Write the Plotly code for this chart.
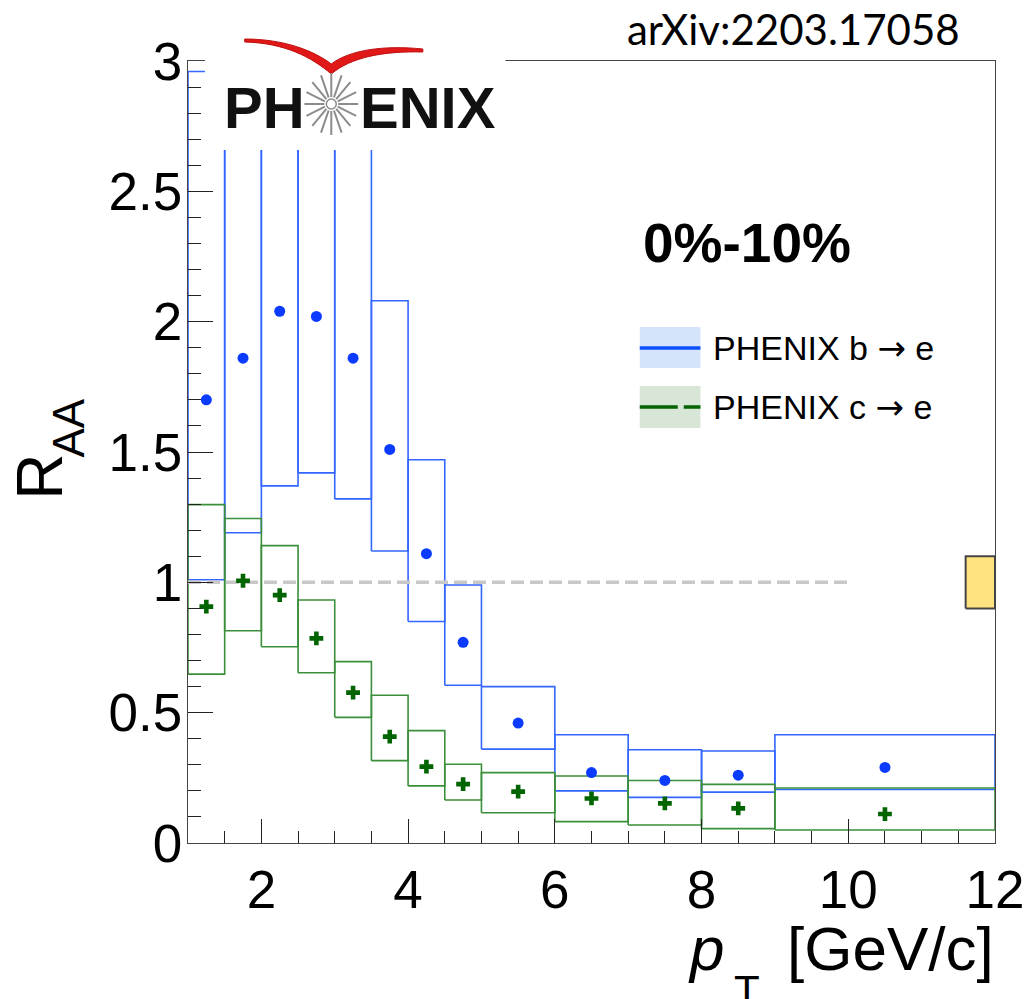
import math
import plotly.graph_objects as go

# pT bins (GeV/c)
pt_lo = [1.0, 1.5, 2.0, 2.5, 3.0, 3.5, 4.0, 4.5, 5.0, 6.0, 7.0, 8.0, 9.0]
pt_hi = [1.5, 2.0, 2.5, 3.0, 3.5, 4.0, 4.5, 5.0, 6.0, 7.0, 8.0, 9.0, 12.0]
pt_center = [1.25, 1.75, 2.25, 2.75, 3.25, 3.75, 4.25, 4.75, 5.5, 6.5, 7.5, 8.5, 10.5]

# b -> e R_AA, central values and systematic band edges
raa_b = [1.70, 1.86, 2.04, 2.02, 1.86, 1.51, 1.11, 0.77, 0.46, 0.27, 0.24, 0.26, 0.29]
raa_b_sys_low = [1.01, 1.19, 1.37, 1.42, 1.32, 1.12, 0.85, 0.605, 0.36, 0.20, 0.175, 0.195, 0.205]
raa_b_sys_high = [2.96, 3.15, 3.35, 3.25, 2.95, 2.08, 1.47, 0.99, 0.60, 0.415, 0.358, 0.353, 0.415]

# c -> e R_AA, central values and systematic band edges
raa_c = [0.907, 1.006, 0.951, 0.785, 0.577, 0.408, 0.293, 0.226, 0.197, 0.171, 0.152, 0.133, 0.111]
raa_c_sys_low = [0.648, 0.814, 0.753, 0.653, 0.482, 0.316, 0.219, 0.165, 0.116, 0.082, 0.069, 0.055, 0.050]
raa_c_sys_high = [1.298, 1.245, 1.141, 0.932, 0.696, 0.567, 0.431, 0.302, 0.270, 0.257, 0.240, 0.225, 0.211]

# global normalisation uncertainty box and unity reference line
norm_x = [11.6, 12.0]
norm_y = [0.9, 1.1]
unity_x = [1.0, 10.0]
unity_y = [1.0, 1.0]

# canvas geometry (pixels)
W, H = 1036, 999
PL, PR, PT, PB = 188, 999, 61, 843

BLUE_BOX = "#3366ff"
BLUE_PT = "#0b3bff"
GREEN_BOX = "#3a8f3a"
GREEN_PT = "#006400"
FONT = "Liberation Sans, Arial, sans-serif"
ARROW = '<span style="font-family:DejaVu Sans">→</span>'


def px(x):
    return (x - PL) / (PR - PL)


def py(y):
    return (PB - y) / (PB - PT)


def box_outline(lo, hi, bottom, top):
    xs, ys = [], []
    for a, b, c, d in zip(lo, hi, bottom, top):
        xs += [a, b, b, a, a, None]
        ys += [c, c, d, d, c, None]
    return xs, ys


fig = go.Figure()

bx, by = box_outline(pt_lo, pt_hi, raa_b_sys_low, raa_b_sys_high)
fig.add_trace(go.Scatter(x=bx, y=by, mode="lines",
                         line=dict(color=BLUE_BOX, width=1.6),
                         hoverinfo="skip", showlegend=False))

cx, cy = box_outline(pt_lo, pt_hi, raa_c_sys_low, raa_c_sys_high)
fig.add_trace(go.Scatter(x=cx, y=cy, mode="lines",
                         line=dict(color=GREEN_BOX, width=1.6),
                         hoverinfo="skip", showlegend=False))

fig.add_trace(go.Scatter(x=unity_x, y=unity_y, mode="lines",
                         line=dict(color="#c8c8c8", width=3.5, dash="13px,6px"),
                         hoverinfo="skip", showlegend=False))

fig.add_trace(go.Scatter(
    x=[norm_x[0], norm_x[1], norm_x[1], norm_x[0], norm_x[0]],
    y=[norm_y[0], norm_y[0], norm_y[1], norm_y[1], norm_y[0]],
    mode="lines", fill="toself", fillcolor="#ffe380",
    line=dict(color="#444444", width=2),
    hoverinfo="skip", showlegend=False))

fig.add_trace(go.Scatter(x=pt_center, y=raa_b, mode="markers",
                         marker=dict(symbol="circle", size=11, color=BLUE_PT),
                         name="PHENIX b → e", showlegend=False))
fig.add_trace(go.Scatter(x=pt_center, y=raa_c, mode="markers",
                         marker=dict(symbol="cross", size=11.5, color=GREEN_PT,
                                     line=dict(width=0)),
                         name="PHENIX c → e", showlegend=False))

axis_common = dict(
    showgrid=False, zeroline=False, showline=True, linecolor="#444444",
    linewidth=1.3, mirror=True, ticks="inside", tickcolor="#222222",
    tickwidth=1.2, tickfont=dict(family=FONT, size=53, color="black"),
)
fig.update_xaxes(range=[1, 12], tick0=0, dtick=2, ticklen=24,
                 minor=dict(dtick=0.5, ticks="inside", ticklen=12,
                            tickcolor="#222222", tickwidth=1.2),
                 ticklabelstandoff=0, **axis_common)
fig.update_yaxes(range=[0, 3], tick0=0, dtick=0.5, ticklen=25,
                 minor=dict(dtick=0.1, ticks="inside", ticklen=13,
                            tickcolor="#222222", tickwidth=1.2),
                 ticklabelstandoff=-6, **axis_common)

shapes = []
annotations = []

# legend entries
shapes.append(dict(type="rect", xref="paper", yref="paper",
                   x0=px(642), x1=px(703), y0=py(368), y1=py(327),
                   fillcolor="#d6e4fb", line=dict(width=0), layer="above"))
shapes.append(dict(type="line", xref="paper", yref="paper",
                   x0=px(642), x1=px(703), y0=py(348), y1=py(348),
                   line=dict(color="#0a50ff", width=3.5), layer="above"))
shapes.append(dict(type="rect", xref="paper", yref="paper",
                   x0=px(642), x1=px(703), y0=py(428), y1=py(386),
                   fillcolor="#d7e6d7", line=dict(width=0), layer="above"))
shapes.append(dict(type="line", xref="paper", yref="paper",
                   x0=px(642), x1=px(703), y0=py(407), y1=py(407),
                   line=dict(color="#006400", width=3.5, dash="38px,6px"),
                   layer="above"))
for label, yc in [("PHENIX b " + ARROW + " e", 348), ("PHENIX c " + ARROW + " e", 407)]:
    annotations.append(dict(text=label, xref="paper", yref="paper",
                            x=px(714), y=py(yc), xanchor="left", yanchor="middle",
                            showarrow=False,
                            font=dict(family=FONT, size=34, color="black")))

# centrality label
annotations.append(dict(text="<b>0%-10%</b>", xref="paper", yref="paper",
                        x=px(750), y=py(243), xanchor="center", yanchor="middle",
                        showarrow=False,
                        font=dict(family=FONT, size=55, color="black")))

# arXiv reference
annotations.append(dict(text="arXiv:2203.17058", xref="paper", yref="paper",
                        x=px(797), y=py(29), xanchor="center", yanchor="middle",
                        showarrow=False,
                        font=dict(family="Lato, Open Sans, sans-serif", size=42,
                                  color="black")))

# axis titles
annotations.append(dict(text="R", xref="paper", yref="paper",
                        x=px(39), y=py(477), xanchor="center", yanchor="middle",
                        textangle=-90, showarrow=False,
                        font=dict(family=FONT, size=64, color="black")))
annotations.append(dict(text="AA", xref="paper", yref="paper",
                        x=px(67), y=py(428), xanchor="center", yanchor="middle",
                        textangle=-90, showarrow=False,
                        font=dict(family=FONT, size=44, color="black")))
annotations.append(dict(text="<i>p</i>", xref="paper", yref="paper",
                        x=px(688), y=py(948), xanchor="left", yanchor="middle",
                        showarrow=False,
                        font=dict(family=FONT, size=62, color="black")))
annotations.append(dict(text="T", xref="paper", yref="paper",
                        x=px(750), y=py(990), xanchor="center", yanchor="middle",
                        showarrow=False,
                        font=dict(family=FONT, size=42, color="black")))
annotations.append(dict(text="[GeV/c]", xref="paper", yref="paper",
                        x=px(1000), y=py(948), xanchor="right", yanchor="middle",
                        showarrow=False,
                        font=dict(family=FONT, size=62, color="black")))

# experiment logo: white plate, red swoosh, star burst, lettering
shapes.append(dict(type="rect", xref="paper", yref="paper",
                   x0=px(205), x1=px(507), y0=py(150), y1=py(27),
                   fillcolor="white", line=dict(width=0), layer="above"))


def pt(x, y):
    return f"{px(x):.5f},{py(y):.5f}"


swoosh = ("M " + pt(245, 39) + " C " + pt(285, 39) + " " + pt(315, 51) + " " + pt(332, 64)
          + " C " + pt(350, 50) + " " + pt(385, 45) + " " + pt(424, 49)
          + " L " + pt(424, 52) + " C " + pt(385, 51) + " " + pt(352, 57) + " " + pt(332, 74)
          + " C " + pt(312, 57) + " " + pt(285, 43) + " " + pt(245, 42) + " Z")
shapes.append(dict(type="path", xref="paper", yref="paper", path=swoosh,
                   fillcolor="#e01818", line=dict(color="#c01010", width=1),
                   layer="above"))

sx, sy = 332, 104
ray_path = ""
for k in range(16):
    a = 2 * math.pi * k / 16
    x0, y0 = sx + 7 * math.cos(a), sy + 7 * math.sin(a)
    x1, y1 = sx + 27 * math.cos(a), sy + 31 * math.sin(a)
    ray_path += "M " + pt(x0, y0) + " L " + pt(x1, y1) + " "
shapes.append(dict(type="path", xref="paper", yref="paper", path=ray_path,
                   line=dict(color="#8c8c8c", width=2), layer="above"))
shapes.append(dict(type="circle", xref="paper", yref="paper",
                   x0=px(sx - 5), x1=px(sx + 5), y0=py(sy + 5), y1=py(sy - 5),
                   line=dict(color="#8c8c8c", width=1.5), layer="above"))

LOGO_FONT = "Liberation Sans, Arial, sans-serif"
annotations.append(dict(text="<b>PH</b>", xref="paper", yref="paper",
                        x=px(222), y=py(107), xanchor="left", yanchor="middle",
                        showarrow=False,
                        font=dict(family=LOGO_FONT, size=58, color="#111111")))
annotations.append(dict(text="<b>ENIX</b>", xref="paper", yref="paper",
                        x=px(359), y=py(107), xanchor="left", yanchor="middle",
                        showarrow=False,
                        font=dict(family=LOGO_FONT, size=58, color="#111111")))

fig.update_layout(
    width=W, height=H,
    margin=dict(l=PL, r=W - PR, t=PT, b=H - PB, pad=0),
    paper_bgcolor="white", plot_bgcolor="white",
    showlegend=False,
    shapes=shapes, annotations=annotations,
)

fig.write_html("out.html")
